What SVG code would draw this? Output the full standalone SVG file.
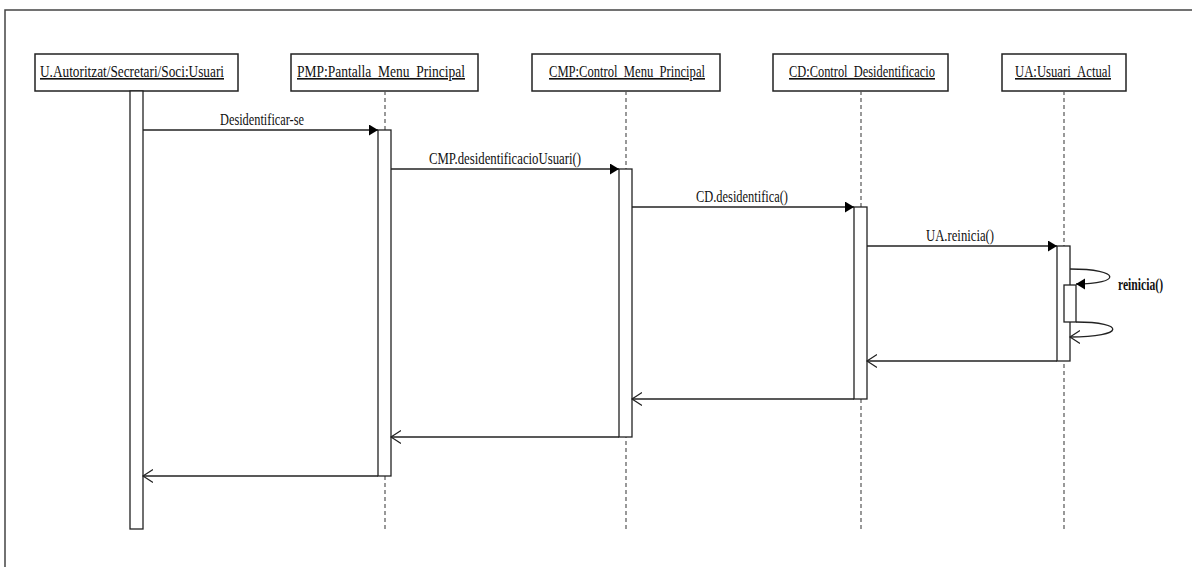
<svg xmlns="http://www.w3.org/2000/svg" width="1192" height="567" viewBox="0 0 1192 567">
  <style>
    .frame { fill: none; stroke: #444; stroke-width: 1.5; }
    .obj { fill: #fff; stroke: #222; stroke-width: 1.5; }
    .act { fill: #fff; stroke: #222; stroke-width: 1.3; }
    .life { stroke: #555; stroke-width: 1.2; stroke-dasharray: 4 3; fill: none; }
    .msg { stroke: #222; stroke-width: 1.3; fill: none; }
    .lbl { font-family: "Liberation Serif", "Times New Roman", "DejaVu Serif", serif; font-size: 16px; fill: #111; }
    .name { text-decoration: underline; text-anchor: middle; }
    .mid { text-anchor: middle; }
  </style>
  <defs>
    <marker id="filled" markerUnits="userSpaceOnUse" markerWidth="10" markerHeight="12" refX="9" refY="5.5" orient="auto">
      <path d="M0,0 L9,5.5 L0,11 z" fill="#000"/>
    </marker>
    <marker id="open" markerUnits="userSpaceOnUse" markerWidth="12" markerHeight="14" refX="10" refY="6.5" orient="auto">
      <path d="M0,0 L10,6.5 L0,13" fill="none" stroke="#222" stroke-width="1.2"/>
    </marker>
  </defs>

  <!-- diagram frame -->
  <rect class="frame" x="5" y="10" width="1200" height="600"/>

  <!-- lifelines with their object boxes and activations -->
  <g id="usuari">
    <rect class="obj" x="35" y="54" width="203" height="37"/>
    <text class="lbl name" x="132" y="77" textLength="184" lengthAdjust="spacingAndGlyphs">U.Autoritzat/Secretari/Soci:Usuari</text>
    <rect class="act" x="130" y="91" width="13" height="438"/>
  </g>

  <g id="pmp">
    <rect class="obj" x="291" y="54" width="187" height="37"/>
    <text class="lbl name" x="381" y="77" textLength="168" lengthAdjust="spacingAndGlyphs">PMP:Pantalla_Menu_Principal</text>
    <line class="life" x1="385" y1="91" x2="385" y2="530"/>
    <rect class="act" x="378" y="130" width="13" height="346"/>
  </g>

  <g id="cmp">
    <rect class="obj" x="532" y="54" width="188" height="37"/>
    <text class="lbl name" x="627" y="77" textLength="156" lengthAdjust="spacingAndGlyphs">CMP:Control_Menu_Principal</text>
    <line class="life" x1="626" y1="91" x2="626" y2="530"/>
    <rect class="act" x="619" y="169" width="13" height="268"/>
  </g>

  <g id="cd">
    <rect class="obj" x="773" y="54" width="175" height="37"/>
    <text class="lbl name" x="862" y="77" textLength="146" lengthAdjust="spacingAndGlyphs">CD:Control_Desidentificacio</text>
    <line class="life" x1="861" y1="91" x2="861" y2="530"/>
    <rect class="act" x="854" y="207" width="13" height="192"/>
  </g>

  <g id="ua">
    <rect class="obj" x="1002" y="54" width="124" height="37"/>
    <text class="lbl name" x="1063" y="77" textLength="96" lengthAdjust="spacingAndGlyphs">UA:Usuari_Actual</text>
    <line class="life" x1="1064" y1="91" x2="1064" y2="530"/>
    <rect class="act" x="1057" y="246" width="13" height="115"/>
    <rect class="act" x="1064" y="285" width="12" height="37"/>
  </g>

  <!-- messages and returns -->
  <g id="connectors">
    <line class="msg" x1="143" y1="130" x2="378" y2="130" marker-end="url(#filled)"/>
    <text class="lbl mid" x="262" y="125" textLength="84" lengthAdjust="spacingAndGlyphs">Desidentificar-se</text>

    <line class="msg" x1="391" y1="169" x2="619" y2="169" marker-end="url(#filled)"/>
    <text class="lbl mid" x="505" y="164" textLength="152" lengthAdjust="spacingAndGlyphs">CMP.desidentificacioUsuari()</text>

    <line class="msg" x1="632" y1="207" x2="854" y2="207" marker-end="url(#filled)"/>
    <text class="lbl mid" x="742" y="202" textLength="92" lengthAdjust="spacingAndGlyphs">CD.desidentifica()</text>

    <line class="msg" x1="867" y1="246" x2="1057" y2="246" marker-end="url(#filled)"/>
    <text class="lbl mid" x="960" y="241" textLength="68" lengthAdjust="spacingAndGlyphs">UA.reinicia()</text>

    <path class="msg" d="M1070,269 C1122,269 1122,284 1076,284" marker-end="url(#filled)"/>
    <text class="lbl" x="1118" y="290" font-weight="bold" textLength="45" lengthAdjust="spacingAndGlyphs">reinicia()</text>
    <path class="msg" d="M1076,322 C1126,322 1126,337 1070,337" marker-end="url(#open)"/>

    <line class="msg" x1="1057" y1="361" x2="867" y2="361" marker-end="url(#open)"/>
    <line class="msg" x1="854" y1="399" x2="632" y2="399" marker-end="url(#open)"/>
    <line class="msg" x1="619" y1="437" x2="391" y2="437" marker-end="url(#open)"/>
    <line class="msg" x1="378" y1="476" x2="143" y2="476" marker-end="url(#open)"/>
  </g>
</svg>
